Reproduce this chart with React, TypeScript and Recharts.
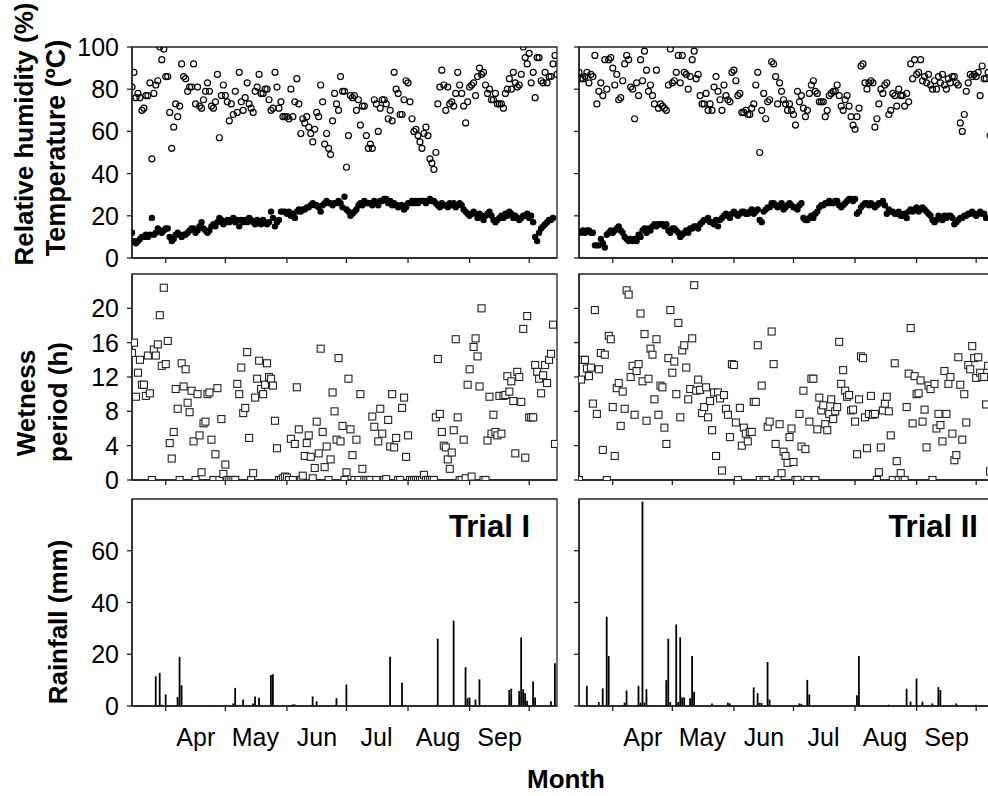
import React from 'react';
import { ComposedChart, Scatter, Bar, XAxis, YAxis, ReferenceArea } from 'recharts';

const FONT = '"Liberation Sans", Arial, Helvetica, sans-serif';
const X_MAX = 214;
const monthTicks = [17, 47, 78, 108, 139, 170, 200];
const monthLabels = ['Apr', 'May', 'Jun', 'Jul', 'Aug', 'Sep'];
const rhTicks = [0, 20, 40, 60, 80, 100];
const wetTicks = [0, 4, 8, 12, 16, 20];
const rainTicks = [0, 20, 40, 60];

// Trial I - relative humidity (%) daily
const rh1 = [
  81, 88, 76, 78, 76, 70, 71, 77, 77, 83,
  47, 78, 82, 84, 100, 94, 99, 86, 86, 69,
  52, 62, 73, 67, 72, 92, 86, 85, 79, 81,
  81, 92, 73, 81, 72, 71, 75, 79, 83, 79,
  72, 71, 74, 87, 57, 77, 82, 77, 74, 65,
  73, 68, 79, 69, 88, 74, 70, 76, 83, 73,
  71, 69, 79, 81, 87, 78, 78, 80, 80, 75,
  70, 71, 88, 81, 71, 74, 67, 67, 67, 66,
  80, 67, 74, 85, 73, 59, 66, 64, 67, 62,
  59, 55, 61, 69, 67, 82, 74, 54, 59, 52,
  49,
  65, 78, 73, 70, 86, 79, 79, 43, 58, 77,
  76, 77, 70, 75, 63, 72, 72, 58, 52, 54,
  52, 75, 73, 60, 71, 75, 75, 73, 66, 70,
  65, 88, 80, 78, 68, 68, 75, 84, 83, 74,
  66, 60, 61, 58, 55, 52, 59, 62, 58, 47,
  45, 42, 50, 73, 81, 89, 82, 70, 81, 73,
  74, 72, 78, 88, 82, 78, 72, 64, 74, 81,
  82, 83, 77, 86, 90, 87, 88, 82, 78, 80,
  75, 75, 78, 73, 73, 73, 71, 78, 80, 85,
  80, 88, 83, 81, 82, 87, 100, 95, 92, 97,
  83, 88, 76, 95, 95, 84, 83, 88, 83, 86,
  86, 92, 96, 87,
];

// Trial I - temperature (ºC) daily
const temp1 = [
  12, 8, 7, 8, 9, 10, 10, 11, 10, 11,
  19, 11, 12, 14, 13, 12, 13, 14, 14, 10,
  8, 9, 11, 12, 11, 10, 11, 11, 12, 13,
  14, 14, 12, 13, 15, 17, 14, 13, 12, 13,
  15, 16, 15, 17, 19, 18, 16, 17, 18, 17,
  18, 19, 17, 18, 15, 18, 17, 18, 17, 19,
  18, 17, 16, 18, 17, 16, 18, 17, 16, 17,
  22, 19, 15, 17, 18, 22, 22, 22, 21, 22,
  20, 21, 19, 22, 23, 22, 23, 23, 24, 24,
  25, 26, 25, 25, 24, 22, 25, 26, 27, 26,
  26, 25, 26, 26, 27, 26, 24, 29, 23, 22,
  20, 21, 22, 23, 25, 26, 25, 27, 26, 26,
  26, 25, 27, 26, 25, 27, 27, 28, 28, 26,
  27, 25, 26, 25, 24, 25, 25, 23, 24, 26,
  26, 27, 26, 27, 26, 27, 27, 27, 26, 27,
  28, 27, 27, 26, 25, 24, 26, 25, 25, 24,
  26, 25, 26, 24, 25, 26, 25, 23, 22, 21,
  20, 21, 22, 21, 19, 21, 20, 18, 20, 21,
  22, 20, 18, 17, 18, 19, 20, 19, 21, 20,
  22, 21, 19, 20, 19, 18, 19, 20, 20, 21,
  19, 20, 17, 10, 8, 12, 14, 15, 16, 17,
  18, 18, 19,
];

// Trial I - wetness period (h) daily
const wet1 = [
  14.8, 16.0, 9.7, 12.5, 14.0, 11.1, 11.1, 9.8, 14.5, 10.1,
  0, 15.2, 14.5, 15.8, 19.2, 13.3, 22.4, 13.5, 16.2, 4.3,
  2.5, 5.6, 10.6, 8.3, 0, 13.6, 10.9, 12.9, 9.0, 7.9,
  10.4, 4.5, 0, 10.0, 5.2, 0.9, 6.6, 6.8, 10.0, 10.2,
  4.7, 0, 3.0, 10.7, 0, 7.1, 0.7, 1.8, 0, 0,
  0, 0, 0, 11.2, 10.0, 13.1, 7.8, 8.4, 14.9, 4.9,
  0, 0.8, 9.6, 11.8, 13.9, 10.6, 10.0, 11.1, 13.6, 12.0,
  11.8, 11.0, 6.9, 3.7, 0, 0, 0.2, 0.4, 0.3, 0,
  4.8, 0, 4.2, 10.8, 5.9, 0, 0.5, 2.8, 4.3, 5.2,
  2.7, 0.2, 1.4, 6.8, 3.1, 15.3, 5.6, 1.5, 3.9, 0,
  2.4,
  10.2, 8.0, 4.7, 14.2, 4.5, 6.3, 0, 0.9, 11.8, 5.9,
  2.9, 0, 4.7, 0, 10.0, 1.3, 0, 0, 0, 0,
  7.4, 6.2, 0, 4.5, 8.3, 5.4, 0, 0.1, 7.0, 3.9,
  10.0, 3.8, 4.9, 0, 0, 8.4, 9.6, 2.7, 5.2, 0,
  0, 0, 0, 0, 0, 0, 0.6, 0, 0, 0,
  0, 0, 7.3, 14.1, 7.7, 5.6, 4.0, 3.8, 2.4, 1.3,
  3.2, 5.8, 16.4, 7.3, 0, 0, 4.7, 0.2, 11.1, 12.9,
  0.4, 15.5, 16.5, 14.4, 10.9, 20.0, 0, 0, 4.6, 9.7,
  5.4, 7.6, 5.6, 5.2, 9.8, 5.4, 9.8, 9.9, 12.1, 10.3,
  11.5, 9.2, 3.1, 12.6, 12.0, 9.1, 17.6, 2.6, 19.1, 7.3,
  7.3, 7.3, 13.4, 12.6, 11.8, 10.1, 12.2, 13.4, 11.3, 14.0,
  14.7, 18.1, 4.2,
];

// Trial I - rainfall (mm)
const rainDays1 = [3, 6, 9, 12, 13, 14, 15, 17, 23, 24, 25, 41, 51, 52, 56, 61, 62, 64, 70, 71, 81, 82, 91, 93, 103, 108, 114, 130, 136, 154, 162, 168, 169, 170, 173, 175, 190, 191, 195, 196, 197, 198, 199, 202, 203, 211, 213];
const rainVals1 = [0.2, 0.2, 0.2, 11.5, 0.3, 12.8, 0.5, 4.5, 3.5, 19, 8, 0.4, 1, 7, 2.5, 1, 3.7, 3.2, 12, 12.3, 0.6, 0.6, 3.7, 1.8, 3, 8.3, 0.3, 19, 9, 26, 33, 15, 3, 3.3, 2.5, 10.3, 6.2, 6.7, 5.8, 26.5, 6.5, 5, 2, 9.5, 3.3, 1.8, 16.5];

// Trial II - relative humidity (%) daily
const rh2 = [
  88, 85, 85, 86, 88, 83, 87, 86, 96, 73,
  79, 83, 77, 94, 80, 94, 95, 90, 82, 87,
  75, 76, 84, 92, 96, 94, 81, 80, 66, 83,
  77, 94, 84, 98, 89, 79, 82, 77, 73, 89,
  71, 73, 72, 71, 70, 82, 99, 83, 84, 88,
  96, 83, 96, 88, 87, 80, 86, 94, 98, 85,
  87, 77, 73, 73, 78, 70, 73, 70, 81, 86,
  79, 75, 70, 82, 77, 75, 74, 88, 89, 84,
  77, 78, 69, 69, 70, 68, 68, 71, 73, 82,
  88, 50, 70, 78, 66, 74, 75, 93, 92, 86,
  73, 83, 79, 75, 73, 70, 73, 70, 68, 63,
  79, 74, 77, 71, 67, 70, 78, 82, 84, 79,
  78, 74, 74, 74, 67, 70, 77, 78, 79, 79,
  82, 77, 72, 70, 75, 77, 72, 67, 63, 61,
  67, 71, 91, 92, 83, 80, 83, 84, 83, 62,
  66, 73, 80, 78, 82, 83, 68, 70, 78, 77,
  72, 80, 77, 77, 72, 78, 74, 92, 85, 94,
  87, 88, 94, 84, 86, 83, 87, 82, 80, 84,
  80, 86, 83, 87, 82, 80, 85, 83, 86, 86,
  83, 82, 64, 60, 68, 79, 83, 87, 86, 87,
  86, 88, 77, 91, 85, 85, 88, 58,
];

// Trial II - temperature (ºC) daily
const temp2 = [
  12, 12, 13, 12, 13, 13, 12, 12,
  6, 6, 6, 9, 7, 5,
  11, 12, 13, 12, 13, 14, 15, 13, 12,
  10, 9, 8, 9, 8, 9, 8, 11, 10,
  13, 14, 12, 14, 13, 15, 16, 15, 16, 16, 16, 15, 16,
  13, 12, 14, 14, 13, 12,
  10, 11, 12, 13, 12, 14, 14, 15, 15, 14,
  16, 17, 18, 18, 19, 17, 17, 16, 18, 15, 18, 19,
  20, 21, 20, 19, 21, 22, 21, 20, 21, 22,
  22, 21, 21, 22, 23, 21, 22, 23, 18, 17, 22, 23, 24, 24,
  26, 26, 25, 24, 25, 26, 23, 24, 25, 26, 25, 24, 24, 23, 25, 26,
  19, 18, 18, 19, 20, 19, 21,
  22, 24, 25, 25, 26, 26, 27, 26, 26, 27, 27, 25, 24, 25, 26,
  27, 28, 28, 27, 28,
  21, 22,
  24, 25, 26, 26, 25, 26, 25, 24, 25, 26, 26, 27, 25,
  21,
  23, 22, 22, 21, 21, 22, 20, 20,
  21, 19, 22, 23, 22, 23, 24, 22, 23, 24, 23, 22, 21,
  20, 18, 17, 18, 20, 19, 18,
  20, 19, 20, 20, 19,
  16, 17, 18, 19, 19, 20, 20, 21, 21, 22, 21, 20, 21, 22, 21, 21, 19,
];

// Trial II - wetness period (h) daily
const wet2 = [
  0,
  11.7, 14.0, 14.0, 13.0, 12.1, 13.1, 8.9, 19.8, 7.7, 12.9,
  14.8, 3.5, 14.6, 0, 16.8, 16.4, 8.5, 2.8, 10.7, 11.3,
  6.3, 10.3, 8.3, 22.1, 21.6, 12.0, 13.3, 7.6, 12.7, 13.5,
  19.4, 11.5, 17.0, 6.9, 11.8, 15.3, 14.6, 9.4, 16.4, 7.6,
  11.0, 10.8, 6.1, 4.2, 14.2, 19.8, 12.5, 13.8, 10.0, 18.3,
  7.3, 15.1, 15.7, 13.1, 9.4, 10.6, 16.5, 22.7, 10.4, 11.7,
  10.5, 7.8, 8.5, 10.8, 7.3, 9.2, 5.8, 10.2, 2.8, 10.2,
  9.5, 1.1, 9.9, 8.3, 7.6, 5.0, 13.5, 13.4, 6.7, 0,
  8.4, 4.0, 6.1, 5.4, 4.5, 5.6, 5.6, 9.1, 9.1, 15.7,
  0, 11.0, 0, 0, 6.2, 6.8, 17.3, 13.5, 4.2, 0,
  6.5, 0.8, 3.3, 2.8, 2.0, 5.0, 6.0, 2.1, 0, 0,
  7.7, 3.9, 10.4, 3.6, 0, 6.8, 11.8, 11.8, 0, 5.9,
  9.6, 8.1, 8.7, 6.5, 5.8, 7.7, 9.4, 7.1, 8.0, 8.5,
  16.1, 11.2, 12.8, 10.4, 9.7, 9.9, 8.1, 8.2, 6.8, 3.0,
  9.4, 14.4, 14.2, 7.3, 3.7, 7.7, 9.8, 7.6, 7.7, 0,
  0.9, 3.8, 8.1, 8.9, 9.7, 8.0, 5.2, 0, 13.6, 2.2,
  0, 0.8, 0, 0, 8.5, 12.4, 17.7, 6.6, 12.1, 10.0,
  10.1, 11.6, 6.8, 8.2, 3.8, 11.0, 10.6, 0, 11.2, 6.0,
  7.7, 6.4, 4.5, 12.7, 7.7, 11.2, 12.0, 5.4, 2.3, 2.9,
  14.3, 11.1, 4.7, 10.0, 6.7, 13.4, 12.9, 15.6, 14.2, 11.9,
  14.3, 12.5, 12.0, 12.0, 8.8, 13.3, 1.0,
];

// Trial II - rainfall (mm)
const rainDays2 = [4, 10, 12, 14, 15, 23, 24, 30, 31, 32, 33, 34, 38, 44, 45, 46, 49, 50, 51, 52, 53, 56, 57, 58, 67, 75, 76, 88, 90, 91, 92, 95, 96, 111, 112, 115, 116, 140, 141, 156, 165, 167, 170, 173, 178, 181, 182, 190, 200];
const rainVals2 = [7.8, 1.5, 6.8, 34.5, 19.3, 1.3, 6, 7.8, 1.3, 79, 1.3, 6.5, 0.4, 10, 26, 1.5, 31.5, 1.5, 26.5, 3.3, 3.3, 3, 19.3, 5.5, 1, 1.3, 1, 7.2, 5, 1.2, 1.2, 17, 2.5, 1, 0.8, 10.1, 4.5, 4.2, 19.3, 0.5, 6.7, 1.7, 10.6, 1.7, 1, 7.3, 6.2, 1, 0.5];

const pts = (arr: number[]) => arr.map((v, i) => ({ d: i, v }));
const rainPts = (days: number[], vals: number[]) => days.map((d, i) => ({ d, v: vals[i] }));

const OpenCircle = (p: any) => (
  <circle cx={p.cx} cy={p.cy} r={3} fill="none" stroke="#000" strokeWidth={1.2} />
);
const FilledCircle = (p: any) => <circle cx={p.cx} cy={p.cy} r={3.2} fill="#000" />;
const OpenSquare = (p: any) => (
  <rect x={p.cx - 3.5} y={p.cy - 3.5} width={7} height={7} fill="#fff" stroke="#222" strokeWidth={1.1} />
);

const NoTick = () => <g />;

const TICK_FS = 25;

const MonthTick = (p: any) => {
  const i = monthTicks.indexOf(p.payload?.value);
  if (i < 0 || i >= monthLabels.length) return <g />;
  return (
    <text x={p.x + 30} y={p.y + 33} textAnchor="middle" fontSize={TICK_FS} fontFamily={FONT} fill="#000">
      {monthLabels[i]}
    </text>
  );
};

const YTick = (p: any) => (
  <text x={p.x} y={p.y} dy={9} textAnchor="end" fontSize={TICK_FS} fontFamily={FONT} fill="#000">
    {p.payload?.value}
  </text>
);

const PLOT_W = 425;
const TOP_M = 14;
const axisLine = { stroke: '#222', strokeWidth: 1.5 };
const tickLine = { stroke: '#222', strokeWidth: 1.3 };

type PanelProps = {
  left: number;
  plotTop: number;
  plotH: number;
  xH: number;
  yW: number;
  yMax: number;
  yTicks: number[];
  showY: boolean;
  bottom: boolean;
  data?: any[];
  children: React.ReactNode;
};

function Panel({ left, plotTop, plotH, xH, yW, yMax, yTicks, showY, bottom, data, children }: PanelProps) {
  const width = yW + PLOT_W + 3;
  const height = TOP_M + plotH + xH;
  return (
    <div style={{ position: 'absolute', left, top: plotTop - TOP_M }}>
      <ComposedChart width={width} height={height} data={data} margin={{ top: TOP_M, right: 3, bottom: 0, left: 0 }}>
        <XAxis
          dataKey="d"
          type="number"
          domain={[0, X_MAX]}
          ticks={monthTicks}
          interval={0}
          allowDataOverflow
          height={xH}
          tickSize={5}
          tick={bottom ? MonthTick : NoTick}
          axisLine={axisLine}
          tickLine={tickLine}
        />
        <YAxis
          dataKey="v"
          type="number"
          domain={[0, yMax]}
          ticks={yTicks}
          interval={0}
          allowDataOverflow
          width={yW}
          tickSize={5}
          tickMargin={8}
          tick={showY ? YTick : NoTick}
          axisLine={axisLine}
          tickLine={tickLine}
        />
        {children}
        <ReferenceArea x1={0} x2={X_MAX} y1={0} y2={yMax} fill="none" fillOpacity={0} stroke="#222" strokeWidth={1.3} />
      </ComposedChart>
    </div>
  );
}

const LEFT_X = 0;
const LEFT_YW = 132;
const RIGHT_X = 569;
const RIGHT_YW = 10;

function ColumnPanels({ x, yW, showY, rh, temp, wet, rain }: any) {
  return (
    <>
      <Panel left={x} plotTop={47} plotH={211} xH={16} yW={yW} yMax={100} yTicks={rhTicks} showY={showY} bottom={false}>
        <Scatter data={pts(rh)} dataKey="v" shape={OpenCircle} isAnimationActive={false} />
        <Scatter data={pts(temp)} dataKey="v" shape={FilledCircle} isAnimationActive={false} />
      </Panel>
      <Panel left={x} plotTop={274} plotH={206} xH={16} yW={yW} yMax={24} yTicks={wetTicks} showY={showY} bottom={false}>
        <Scatter data={pts(wet)} dataKey="v" shape={OpenSquare} isAnimationActive={false} />
      </Panel>
      <Panel left={x} plotTop={499} plotH={207} xH={60} yW={yW} yMax={80} yTicks={rainTicks} showY={showY} bottom={true} data={rain}>
        <Bar dataKey="v" fill="#000" barSize={2} isAnimationActive={false} />
      </Panel>
    </>
  );
}

export default function App() {
  const rain1 = rainPts(rainDays1, rainVals1);
  const rain2 = rainPts(rainDays2, rainVals2);
  return (
    <div style={{ position: 'absolute', left: 0, top: 0, width: 988, height: 796, overflow: 'hidden', background: '#fff' }}>
      <ColumnPanels x={LEFT_X} yW={LEFT_YW} showY={true} rh={rh1} temp={temp1} wet={wet1} rain={rain1} />
      <ColumnPanels x={RIGHT_X} yW={RIGHT_YW} showY={false} rh={rh2} temp={temp2} wet={wet2} rain={rain2} />
      <svg width={988} height={796} style={{ position: 'absolute', left: 0, top: 0, pointerEvents: 'none' }}>
        <g fontFamily={FONT} fontWeight="bold" fill="#000" fontSize={26}>
          <text transform="translate(33,134) rotate(-90)" textAnchor="middle">Relative humidity (%)</text>
          <text transform="translate(65,148) rotate(-90)" textAnchor="middle" fontSize={27}>Temperature (ºC)</text>
          <text transform="translate(35,403) rotate(-90)" textAnchor="middle">Wetness</text>
          <text transform="translate(67,402) rotate(-90)" textAnchor="middle">period (h)</text>
          <text transform="translate(67,622) rotate(-90)" textAnchor="middle">Rainfall (mm)</text>
          <text x={566} y={788} textAnchor="middle">Month</text>
          <text x={530} y={537} textAnchor="end" fontSize={31}>Trial I</text>
          <text x={978} y={537} textAnchor="end" fontSize={31}>Trial II</text>
        </g>
      </svg>
    </div>
  );
}
